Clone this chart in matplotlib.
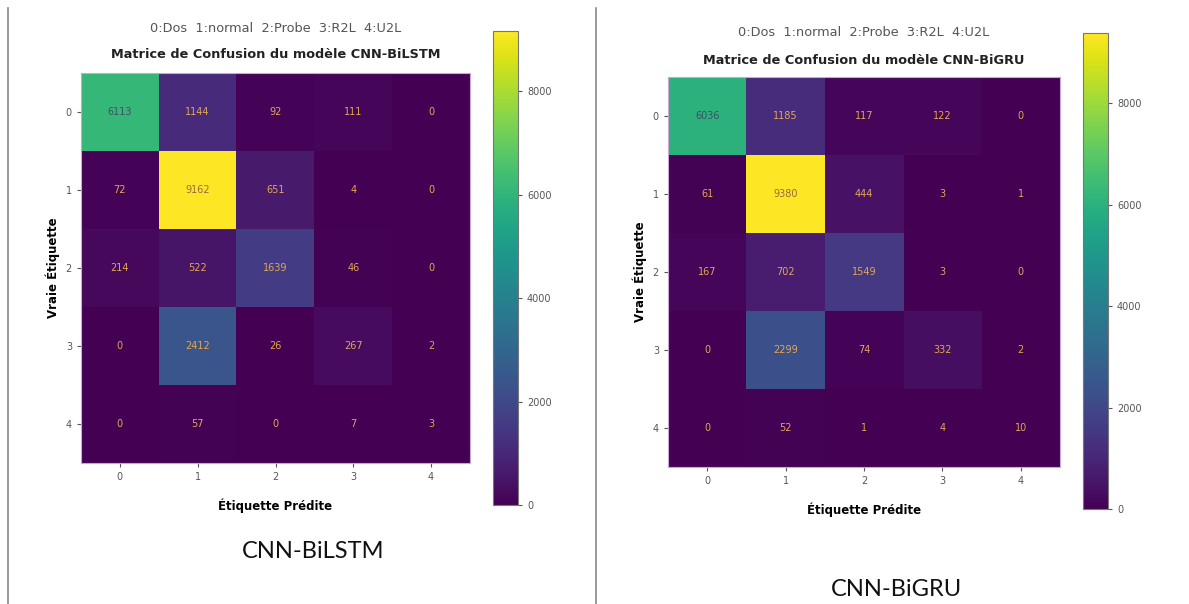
import numpy as np
import matplotlib
matplotlib.use("Agg")
import matplotlib.pyplot as plt
from matplotlib.lines import Line2D

# Données des matrices de confusion
classes = ["0", "1", "2", "3", "4"]
legende_classes = "0:Dos  1:normal  2:Probe  3:R2L  4:U2L"

cm_bilstm = np.array([
    [6113, 1144, 92, 111, 0],
    [72, 9162, 651, 4, 0],
    [214, 522, 1639, 46, 0],
    [0, 2412, 26, 267, 2],
    [0, 57, 0, 7, 3],
])

cm_bigru = np.array([
    [6036, 1185, 117, 122, 0],
    [61, 9380, 444, 3, 1],
    [167, 702, 1549, 3, 0],
    [0, 2299, 74, 332, 2],
    [0, 52, 1, 4, 10],
])

cbar_ticks = [0, 2000, 4000, 6000, 8000]
noms_modeles = ["CNN-BiLSTM", "CNN-BiGRU"]

W, H = 1189, 604
fig = plt.figure(figsize=(W / 100, H / 100), dpi=100)
fig.patch.set_facecolor("white")


def px(x0, y0, x1, y1):
    """Convertit des pixels (haut-gauche) en coordonnées de figure."""
    return [x0 / W, 1 - y1 / H, (x1 - x0) / W, (y1 - y0) / H]


def tracer_matrice(cm, nom, pos_ax, pos_cb, y_sous_titre, y_titre):
    ax = fig.add_axes(px(*pos_ax))
    cax = fig.add_axes(px(*pos_cb))
    im = ax.imshow(cm, cmap="viridis", aspect="auto", vmin=0, vmax=cm.max())

    seuil = (cm.max() + cm.min()) / 2.0
    for i in range(cm.shape[0]):
        for j in range(cm.shape[1]):
            if cm[i, j] > seuil:
                ax.text(j, i, str(cm[i, j]), ha="center", va="center",
                        fontsize=7, color="#440154", alpha=0.55)
            else:
                ax.text(j, i, str(cm[i, j]), ha="center", va="center",
                        fontsize=7, color="#e3a752")

    ax.set_xticks(range(len(classes)))
    ax.set_yticks(range(len(classes)))
    ax.set_xticklabels(classes)
    ax.set_yticklabels(classes)
    ax.tick_params(labelsize=7, colors="#555555", length=3)
    for s in ax.spines.values():
        s.set_color("#c9a6d6")
        s.set_linewidth(0.8)

    ax.set_xlabel("Étiquette Prédite", fontsize=8.5, fontweight="bold", labelpad=12)
    ax.set_ylabel("Vraie Étiquette", fontsize=8.5, fontweight="bold", labelpad=4)

    cx = (pos_ax[0] + pos_ax[2]) / 2
    fig.text(cx / W, 1 - y_titre / H, "Matrice de Confusion du modèle " + nom,
             ha="center", va="center", fontsize=9.3, fontweight="bold", color="#222222")
    fig.text(cx / W, 1 - y_sous_titre / H, legende_classes,
             ha="center", va="center", fontsize=9.3, color="#555555")

    cb = fig.colorbar(im, cax=cax)
    cb.set_ticks(cbar_ticks)
    cb.ax.tick_params(labelsize=7, colors="#555555", length=3)
    cb.outline.set_edgecolor("#777777")
    cb.outline.set_linewidth(0.8)


tracer_matrice(cm_bilstm, noms_modeles[0], (81, 73, 470, 463), (493, 31, 518, 505), 28, 55)
tracer_matrice(cm_bigru, noms_modeles[1], (668, 77, 1060, 467), (1083, 33, 1108, 509), 33, 60)

# Légendes sous chaque matrice
fig.text(313 / W, 1 - 552 / H, noms_modeles[0], ha="center", va="center",
         fontsize=17, family="Lato", color="#111111")
fig.text(897 / W, 1 - 590 / H, noms_modeles[1], ha="center", va="center",
         fontsize=17, family="Lato", color="#111111")

# Bordures verticales
for x in (8, 596):
    fig.add_artist(Line2D([x / W, x / W], [0, 1 - 8 / H], transform=fig.transFigure,
                          color="#888888", linewidth=1.2))

fig.savefig("out.png", dpi=100)
